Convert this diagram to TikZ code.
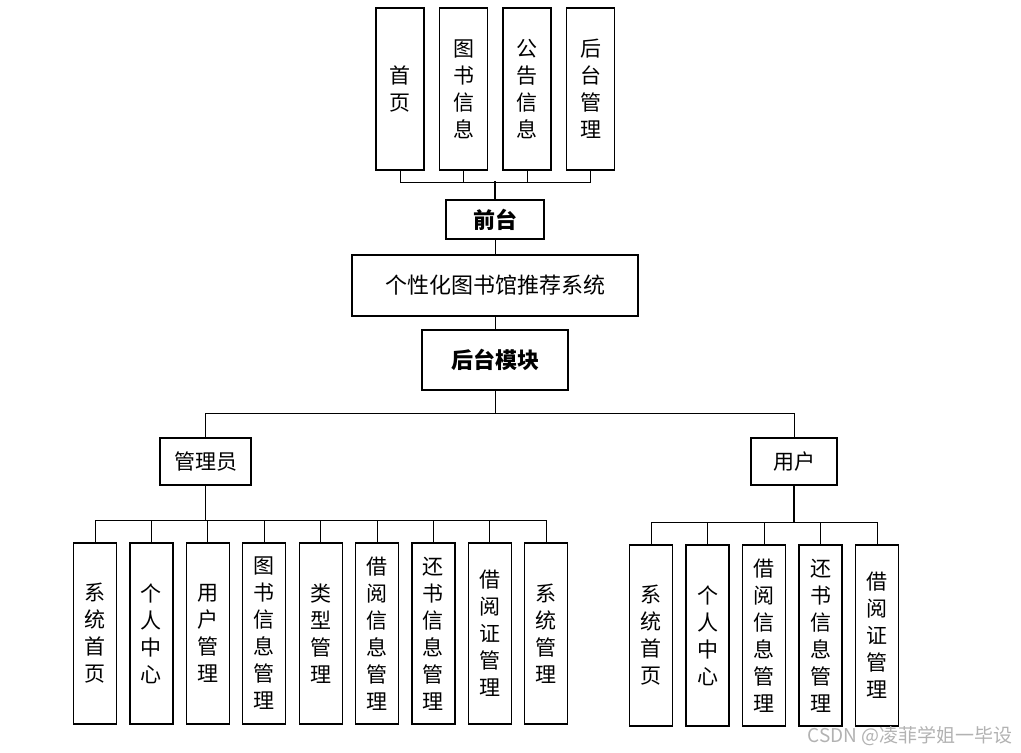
\documentclass[tikz,border=0pt]{standalone}
\usepackage{fontspec}
\newfontfamily\cjk{Noto Sans CJK SC}
\usetikzlibrary{positioning}

\begin{document}
\begin{tikzpicture}[x=1pt,y=-1pt,
% Box styles
    box/.style={draw,line width=1.2pt,inner sep=0pt,align=center,
		font=\cjk\fontsize{21}{27}\selectfont},
    topbox/.style={box,minimum width=48pt,minimum height=162pt},
    leafbox/.style={box,minimum width=43pt,minimum height=181pt},
    bold/.style={font=\cjk\bfseries\fontsize{22}{26}\selectfont},
% Connector styles
    link/.style={line width=1pt},
    trunk/.style={line width=1.8pt}
    ]
\useasboundingbox (0,0) rectangle (1021,753);
%% Front end
    \node (t1) [topbox] at (400,89) {首\\页};
    \node (t2) [topbox] at (463.5,89) {图\\书\\信\\息};
    \node (t3) [topbox] at (527,89) {公\\告\\信\\息};
    \node (t4) [topbox] at (590.5,89) {后\\台\\管\\理};
    \node (qt) [box,bold,minimum width=98pt,minimum height=39pt]
		at (495,219.5) {前台};
%% System and back end
    \node (sys) [box,minimum width=286pt,minimum height=61pt,
		font=\cjk\fontsize{22}{26}\selectfont] at (495,285.5) {个性化图书馆推荐系统};
    \node (bk) [box,bold,minimum width=146pt,minimum height=60pt]
		at (495,360) {后台模块};
    \node (adm) [box,minimum width=91pt,minimum height=47pt]
		at (205.5,461.5) {管理员};
    \node (usr) [box,minimum width=86pt,minimum height=47pt]
		at (794,461.5) {用户};
%% Leaves
    \foreach \txt [count=\i from 0] in {系\\统\\首\\页,个\\人\\中\\心,
		用\\户\\管\\理,图\\书\\信\\息\\管\\理,类\\型\\管\\理,
		借\\阅\\信\\息\\管\\理,还\\书\\信\\息\\管\\理,
		借\\阅\\证\\管\\理,系\\统\\管\\理}
	\node (a\i) [leafbox] at (95+56.4*\i,633.5) {\txt};
    \foreach \txt [count=\i from 0] in {系\\统\\首\\页,个\\人\\中\\心,
		借\\阅\\信\\息\\管\\理,还\\书\\信\\息\\管\\理,借\\阅\\证\\管\\理}
	\node (u\i) [leafbox] at (651+56.5*\i,635.5) {\txt};
%% Edges
    \foreach \t in {t1,t2,t3,t4}
	\draw [link] (\t.south) -- ++(0,12) -| (qt.north);
    \draw [trunk] (qt.north) -- ++(0,-18);
    \draw [link] (qt.south) -- (sys.north);
    \draw [link] (sys.south) -- (bk.north);
    \draw [link] (bk.south) -- ++(0,23) -| (adm.north);
    \draw [link] (bk.south) -- ++(0,23) -| (usr.north);
    \foreach \i in {0,...,8}
	\draw [link] (adm.south) -- ++(0,35) -| (a\i.north);
    \foreach \i in {0,...,4}
	\draw [link] (usr.south) -- ++(0,37) -| (u\i.north);
    \draw [trunk] (adm.south) -- ++(0,35);
    \draw [trunk] (usr.south) -- ++(0,37);
%% Watermark
    \node (wm) [font=\cjk\fontsize{19}{22}\selectfont,text=black!30,anchor=east]
		at (1016,736) {CSDN @凌菲学姐一毕设};
\end{tikzpicture}
\end{document}
